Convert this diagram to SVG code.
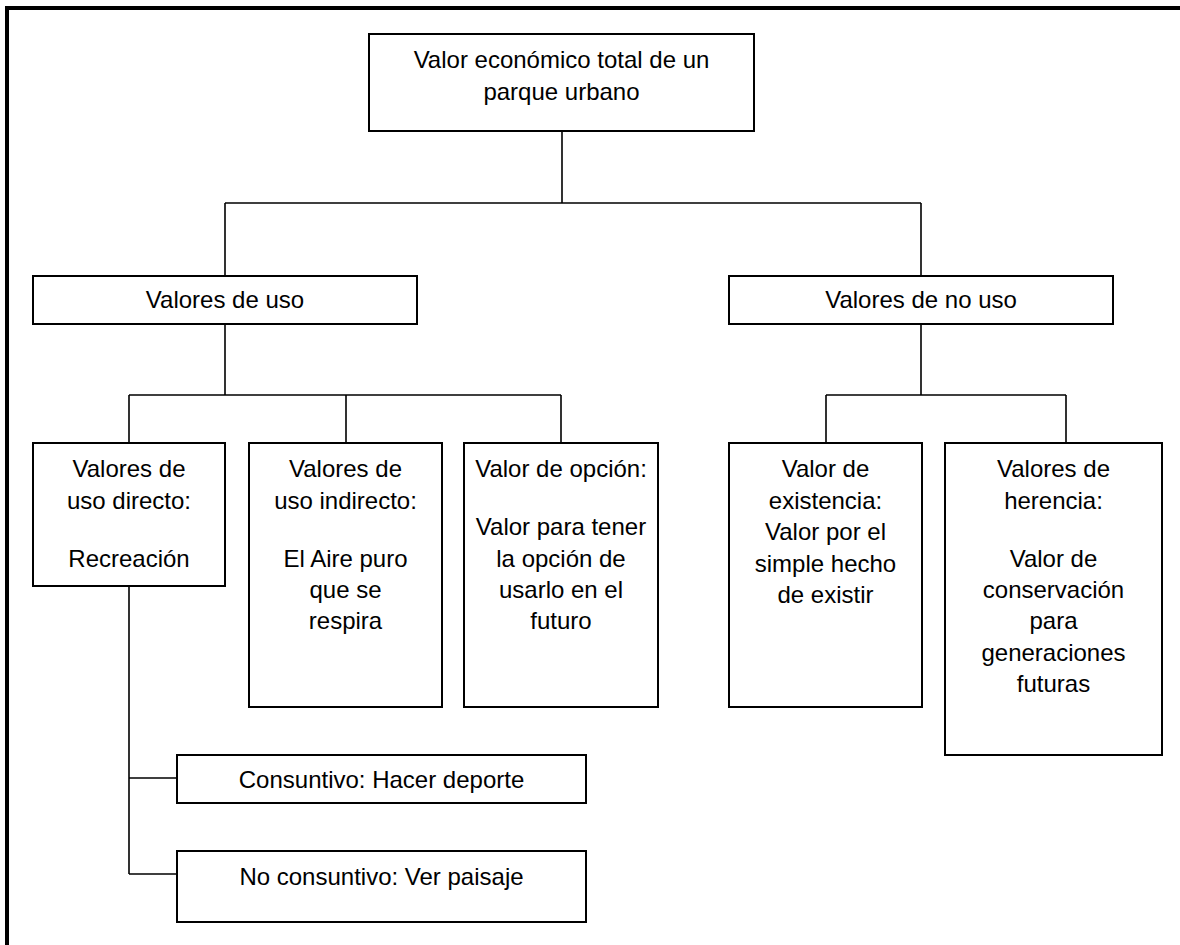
<svg xmlns="http://www.w3.org/2000/svg" width="1180" height="945" viewBox="0 0 1180 945">
<style>
.box{fill:#fff;stroke:#000;stroke-width:2}
.ln{fill:none;stroke:#000;stroke-width:1.6}
text{font-family:"Liberation Sans",Arial,sans-serif;font-size:24px;fill:#000;text-anchor:middle}
</style>
<rect width="1180" height="945" fill="#fff"/>
<path d="M7,945 V8 H1180" fill="none" stroke="#000" stroke-width="4"/>
<g id="connectors">
<path class="ln" d="M562,131 V203 M225,203 H921 M225,203 V276 M921,203 V276"/>
<path class="ln" d="M225,324 V395 M129,395 H561 M129,395 V443 M346,395 V443 M561,395 V443"/>
<path class="ln" d="M921,324 V395 M826,395 H1066 M826,395 V443 M1066,395 V443"/>
<path class="ln" d="M129,586 V874 M129,778 H177 M129,874 H177"/>
</g>
<g id="n-total">
<rect class="box" x="369" y="34" width="385" height="97"/>
<text x="561.5" y="68">Valor económico total de un</text>
<text x="561.5" y="100">parque urbano</text>
</g>
<g id="n-uso">
<rect class="box" x="33" y="276" width="384" height="48"/>
<text x="225" y="308">Valores de uso</text>
</g>
<g id="n-nouso">
<rect class="box" x="729" y="276" width="384" height="48"/>
<text x="921" y="308">Valores de no uso</text>
</g>
<g id="n-directo">
<rect class="box" x="33" y="443" width="192" height="143"/>
<text x="129" y="477">Valores de</text>
<text x="129" y="508.5">uso directo:</text>
<text x="129" y="567">Recreación</text>
</g>
<g id="n-indirecto">
<rect class="box" x="249" y="443" width="193" height="264"/>
<text x="345.5" y="477">Valores de</text>
<text x="345.5" y="508.5">uso indirecto:</text>
<text x="345.5" y="567">El Aire puro</text>
<text x="345.5" y="598">que se</text>
<text x="345.5" y="629">respira</text>
</g>
<g id="n-opcion">
<rect class="box" x="464" y="443" width="194" height="264"/>
<text x="561" y="477">Valor de opción:</text>
<text x="561" y="535">Valor para tener</text>
<text x="561" y="567">la opción de</text>
<text x="561" y="598">usarlo en el</text>
<text x="561" y="629">futuro</text>
</g>
<g id="n-existencia">
<rect class="box" x="729" y="443" width="193" height="264"/>
<text x="825.5" y="477">Valor de</text>
<text x="825.5" y="508.5">existencia:</text>
<text x="825.5" y="540">Valor por el</text>
<text x="825.5" y="572">simple hecho</text>
<text x="825.5" y="602.5">de existir</text>
</g>
<g id="n-herencia">
<rect class="box" x="945" y="443" width="217" height="312"/>
<text x="1053.5" y="477">Valores de</text>
<text x="1053.5" y="508.5">herencia:</text>
<text x="1053.5" y="567">Valor de</text>
<text x="1053.5" y="598">conservación</text>
<text x="1053.5" y="629">para</text>
<text x="1053.5" y="661">generaciones</text>
<text x="1053.5" y="692">futuras</text>
</g>
<g id="n-consuntivo">
<rect class="box" x="177" y="755" width="409" height="48"/>
<text x="381.5" y="788">Consuntivo: Hacer deporte</text>
</g>
<g id="n-noconsuntivo">
<rect class="box" x="177" y="851" width="409" height="71"/>
<text x="381.5" y="885">No consuntivo: Ver paisaje</text>
</g>
</svg>
